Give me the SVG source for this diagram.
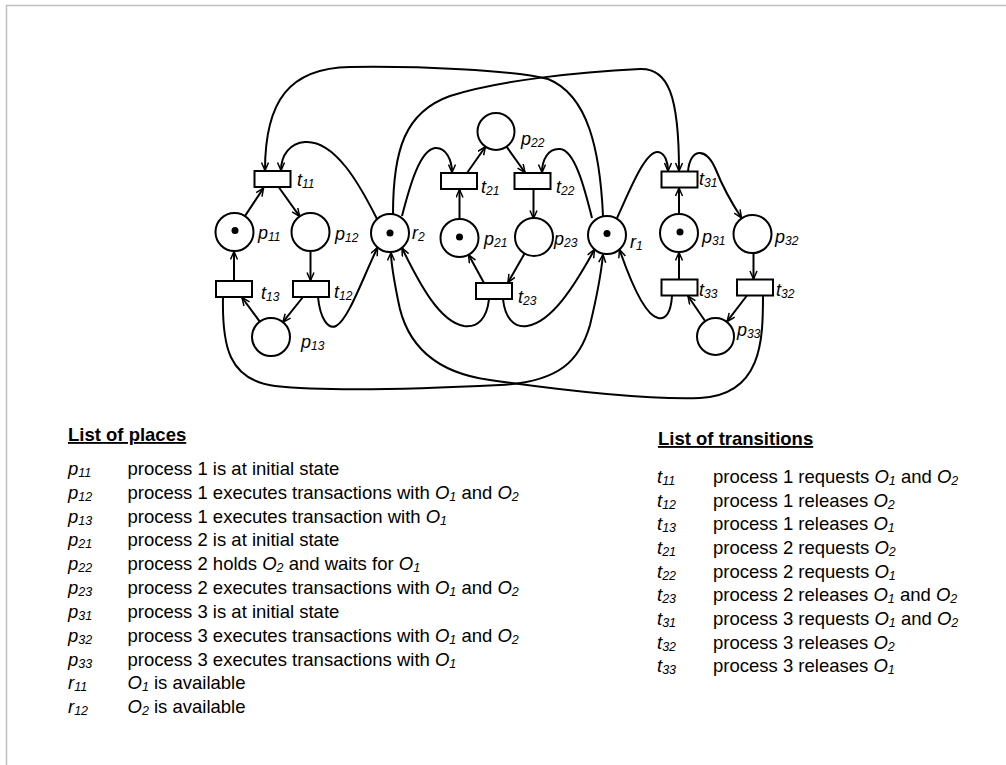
<svg xmlns="http://www.w3.org/2000/svg" width="1006" height="765" viewBox="0 0 1006 765">
<style>
.pl{fill:#fff;stroke:#000;stroke-width:2}
.tr{fill:#fff;stroke:#000;stroke-width:2}
.tk{fill:#000}
.c{fill:none;stroke:#000;stroke-width:2;marker-end:url(#a)}
.lb{font-family:"Liberation Sans",Arial,sans-serif;font-style:italic;font-size:18px;fill:#000}
.sb{font-size:12px}
.tx{font-family:"Liberation Sans",Arial,sans-serif;font-size:18.5px;fill:#000}
.hd{font-weight:bold;text-decoration:underline}
.i{font-style:italic}
.s{font-size:12.5px;font-style:italic}
</style>
<defs>
<marker id="a" markerWidth="10" markerHeight="10" refX="9" refY="4" orient="auto" markerUnits="userSpaceOnUse">
<path d="M1,0.5 L9,4 L1,7.5" fill="none" stroke="#000" stroke-width="1.5"/>
</marker>
</defs>
<rect width="1006" height="765" fill="#fff"/>
<path d="M6.5,765 V5.5 H1006" fill="none" stroke="#c0c0c0" stroke-width="1.5"/>

<g id="connectors">
<path class="c" d="M244.9,216.1 L263.5,188"/>
<path class="c" d="M279,187.5 L299.6,216.4"/>
<path class="c" d="M310.5,251 L310.5,280.5"/>
<path class="c" d="M303,297 L282.9,322.2"/>
<path class="c" d="M259.8,321.6 L242,297.5"/>
<path class="c" d="M234,281 L234,251.5"/>
<path class="c" d="M459.5,219 L459.5,189.5"/>
<path class="c" d="M467,173 L485.4,146.7"/>
<path class="c" d="M506.6,146.7 L525,172.5"/>
<path class="c" d="M533.5,189 L533.5,218.5"/>
<path class="c" d="M524.6,253.5 L508,282.5"/>
<path class="c" d="M484,283 L468.6,254.7"/>
<path class="c" d="M679,214 L679,188"/>
<path class="c" d="M679,279.5 L679,252.5"/>
<path class="c" d="M753.5,253 L753.5,279"/>
<path class="c" d="M747,295.5 L727.1,321.4"/>
<path class="c" d="M704.9,320.7 L688,296"/>
<path class="c" d="M688,171.5 C690,148 706,146 716,170 C724,190 733,205 741.5,218"/>
<path class="c" d="M617,218 C630,190 645,151 658,152 C665,153 668,162 668,171"/>
<path class="c" d="M393,214 C393,150 405,112 450,96 C500,80 580,72 640,69 C668,68 679,95 679,171"/>
<path class="c" d="M603,216 C600,150 588,95 548,79 C510,70 420,66 350,67 C290,68 265,100 265,170.5"/>
<path class="c" d="M377,219 C360,185 335,140 305,142 C290,143 281,155 281,170.5"/>
<path class="c" d="M402,216 C410,185 420,150 435,148 C446,147 452,160 452,172.5"/>
<path class="c" d="M592,218 C585,190 575,150 560,149 C548,148 542,160 542,172.5"/>
<path class="c" d="M318,297 C320,318 328,330 336,326 C348,320 362,280 377.5,247.5"/>
<path class="c" d="M223,297 C222,345 228,380 275,386 C330,392 440,388 500,385 C560,382 580,360 590,325 C596,300 601,275 603,254.5"/>
<path class="c" d="M763,296 C763,340 762,395 700,398 C640,400 560,390 490,380 C430,372 405,340 398,300 C394,280 391,265 391,252.5"/>
<path class="c" d="M489,299 C487,318 478,328 464,326 C440,322 420,285 402,248"/>
<path class="c" d="M503,299 C505,318 514,328 527,326 C552,322 575,285 594.5,249.5"/>
<path class="c" d="M672,296 C671,312 666,320 658,318 C645,315 630,280 619.5,249.5"/>
</g>

<g id="t11"><rect class="tr" x="254.5" y="171" width="36" height="16"/><text class="lb" x="297" y="186">t<tspan class="sb" dy="1.5">11</tspan></text></g>
<g id="p11"><circle class="pl" cx="234.5" cy="232" r="19"/><circle class="tk" cx="235" cy="230.5" r="3.5"/><text class="lb" x="258" y="239">p<tspan class="sb" dy="1.5">11</tspan></text></g>
<g id="p12"><circle class="pl" cx="310.5" cy="232" r="19"/><text class="lb" x="335" y="240">p<tspan class="sb" dy="1.5">12</tspan></text></g>
<g id="t13"><rect class="tr" x="216" y="281" width="36" height="16"/><text class="lb" x="261" y="299">t<tspan class="sb" dy="1.5">13</tspan></text></g>
<g id="t12"><rect class="tr" x="293" y="281" width="36" height="16"/><text class="lb" x="334" y="298">t<tspan class="sb" dy="1.5">12</tspan></text></g>
<g id="p13"><circle class="pl" cx="271" cy="337" r="19"/><text class="lb" x="301" y="348">p<tspan class="sb" dy="1.5">13</tspan></text></g>
<g id="r2"><circle class="pl" cx="390" cy="233" r="19"/><circle class="tk" cx="390" cy="233" r="3.5"/><text class="lb" x="412" y="239">r<tspan class="sb" dy="1.5">2</tspan></text></g>
<g id="t21"><rect class="tr" x="441" y="173" width="36" height="16"/><text class="lb" x="481" y="193">t<tspan class="sb" dy="1.5">21</tspan></text></g>
<g id="t22"><rect class="tr" x="514.5" y="173" width="36" height="16"/><text class="lb" x="556" y="193">t<tspan class="sb" dy="1.5">22</tspan></text></g>
<g id="p22"><circle class="pl" cx="496" cy="131.5" r="18.5"/><text class="lb" x="521" y="145">p<tspan class="sb" dy="1.5">22</tspan></text></g>
<g id="p21"><circle class="pl" cx="459.5" cy="238" r="19"/><circle class="tk" cx="459.5" cy="237" r="3.5"/><text class="lb" x="484" y="245">p<tspan class="sb" dy="1.5">21</tspan></text></g>
<g id="p23"><circle class="pl" cx="534" cy="237" r="19"/><text class="lb" x="554" y="245">p<tspan class="sb" dy="1.5">23</tspan></text></g>
<g id="t23"><rect class="tr" x="476" y="283" width="36" height="16"/><text class="lb" x="518" y="303">t<tspan class="sb" dy="1.5">23</tspan></text></g>
<g id="r1"><circle class="pl" cx="607" cy="235" r="19"/><circle class="tk" cx="607" cy="233.5" r="3.5"/><text class="lb" x="630" y="248">r<tspan class="sb" dy="1.5">1</tspan></text></g>
<g id="t31"><rect class="tr" x="661.5" y="171.5" width="36" height="16"/><text class="lb" x="699" y="185">t<tspan class="sb" dy="1.5">31</tspan></text></g>
<g id="p31"><circle class="pl" cx="679" cy="233" r="19"/><circle class="tk" cx="680" cy="232" r="3.5"/><text class="lb" x="702" y="243">p<tspan class="sb" dy="1.5">31</tspan></text></g>
<g id="p32"><circle class="pl" cx="752.5" cy="234" r="19"/><text class="lb" x="775" y="243">p<tspan class="sb" dy="1.5">32</tspan></text></g>
<g id="t33"><rect class="tr" x="661.5" y="279.5" width="36" height="16"/><text class="lb" x="699" y="296">t<tspan class="sb" dy="1.5">33</tspan></text></g>
<g id="t32"><rect class="tr" x="737" y="279.5" width="36" height="16"/><text class="lb" x="776" y="296">t<tspan class="sb" dy="1.5">32</tspan></text></g>
<g id="p33"><circle class="pl" cx="715.5" cy="336.5" r="18.5"/><text class="lb" x="737" y="336">p<tspan class="sb" dy="1.5">33</tspan></text></g>

<g id="places-list" class="tx">
<text class="hd" x="68" y="441">List of places</text>
<text x="68" y="475"><tspan class="i">p</tspan><tspan class="s" dy="2">11</tspan></text><text x="127.5" y="475">process 1 is at initial state</text>
<text x="68" y="499"><tspan class="i">p</tspan><tspan class="s" dy="2">12</tspan></text><text x="127.5" y="499">process 1 executes transactions with <tspan class="i">O</tspan><tspan class="s" dy="2">1</tspan><tspan dy="-2"> and </tspan><tspan class="i">O</tspan><tspan class="s" dy="2">2</tspan></text>
<text x="68" y="523"><tspan class="i">p</tspan><tspan class="s" dy="2">13</tspan></text><text x="127.5" y="523">process 1 executes transaction with <tspan class="i">O</tspan><tspan class="s" dy="2">1</tspan></text>
<text x="68" y="546"><tspan class="i">p</tspan><tspan class="s" dy="2">21</tspan></text><text x="127.5" y="546">process 2 is at initial state</text>
<text x="68" y="570"><tspan class="i">p</tspan><tspan class="s" dy="2">22</tspan></text><text x="127.5" y="570">process 2 holds <tspan class="i">O</tspan><tspan class="s" dy="2">2</tspan><tspan dy="-2"> and waits for </tspan><tspan class="i">O</tspan><tspan class="s" dy="2">1</tspan></text>
<text x="68" y="594"><tspan class="i">p</tspan><tspan class="s" dy="2">23</tspan></text><text x="127.5" y="594">process 2 executes transactions with <tspan class="i">O</tspan><tspan class="s" dy="2">1</tspan><tspan dy="-2"> and </tspan><tspan class="i">O</tspan><tspan class="s" dy="2">2</tspan></text>
<text x="68" y="618"><tspan class="i">p</tspan><tspan class="s" dy="2">31</tspan></text><text x="127.5" y="618">process 3 is at initial state</text>
<text x="68" y="642"><tspan class="i">p</tspan><tspan class="s" dy="2">32</tspan></text><text x="127.5" y="642">process 3 executes transactions with <tspan class="i">O</tspan><tspan class="s" dy="2">1</tspan><tspan dy="-2"> and </tspan><tspan class="i">O</tspan><tspan class="s" dy="2">2</tspan></text>
<text x="68" y="666"><tspan class="i">p</tspan><tspan class="s" dy="2">33</tspan></text><text x="127.5" y="666">process 3 executes transactions with <tspan class="i">O</tspan><tspan class="s" dy="2">1</tspan></text>
<text x="68" y="689"><tspan class="i">r</tspan><tspan class="s" dy="2">11</tspan></text><text x="127.5" y="689"><tspan class="i">O</tspan><tspan class="s" dy="2">1</tspan><tspan dy="-2"> is available</tspan></text>
<text x="68" y="713"><tspan class="i">r</tspan><tspan class="s" dy="2">12</tspan></text><text x="127.5" y="713"><tspan class="i">O</tspan><tspan class="s" dy="2">2</tspan><tspan dy="-2"> is available</tspan></text>
</g>

<g id="transitions-list" class="tx">
<text class="hd" x="658" y="445">List of transitions</text>
<text x="657" y="483"><tspan class="i">t</tspan><tspan class="s" dy="2">11</tspan></text><text x="713" y="483">process 1 requests <tspan class="i">O</tspan><tspan class="s" dy="2">1</tspan><tspan dy="-2"> and </tspan><tspan class="i">O</tspan><tspan class="s" dy="2">2</tspan></text>
<text x="657" y="507"><tspan class="i">t</tspan><tspan class="s" dy="2">12</tspan></text><text x="713" y="507">process 1 releases <tspan class="i">O</tspan><tspan class="s" dy="2">2</tspan></text>
<text x="657" y="530"><tspan class="i">t</tspan><tspan class="s" dy="2">13</tspan></text><text x="713" y="530">process 1 releases <tspan class="i">O</tspan><tspan class="s" dy="2">1</tspan></text>
<text x="657" y="554"><tspan class="i">t</tspan><tspan class="s" dy="2">21</tspan></text><text x="713" y="554">process 2 requests <tspan class="i">O</tspan><tspan class="s" dy="2">2</tspan></text>
<text x="657" y="578"><tspan class="i">t</tspan><tspan class="s" dy="2">22</tspan></text><text x="713" y="578">process 2 requests <tspan class="i">O</tspan><tspan class="s" dy="2">1</tspan></text>
<text x="657" y="601"><tspan class="i">t</tspan><tspan class="s" dy="2">23</tspan></text><text x="713" y="601">process 2 releases <tspan class="i">O</tspan><tspan class="s" dy="2">1</tspan><tspan dy="-2"> and </tspan><tspan class="i">O</tspan><tspan class="s" dy="2">2</tspan></text>
<text x="657" y="625"><tspan class="i">t</tspan><tspan class="s" dy="2">31</tspan></text><text x="713" y="625">process 3 requests <tspan class="i">O</tspan><tspan class="s" dy="2">1</tspan><tspan dy="-2"> and </tspan><tspan class="i">O</tspan><tspan class="s" dy="2">2</tspan></text>
<text x="657" y="649"><tspan class="i">t</tspan><tspan class="s" dy="2">32</tspan></text><text x="713" y="649">process 3 releases <tspan class="i">O</tspan><tspan class="s" dy="2">2</tspan></text>
<text x="657" y="672"><tspan class="i">t</tspan><tspan class="s" dy="2">33</tspan></text><text x="713" y="672">process 3 releases <tspan class="i">O</tspan><tspan class="s" dy="2">1</tspan></text>
</g>
</svg>
